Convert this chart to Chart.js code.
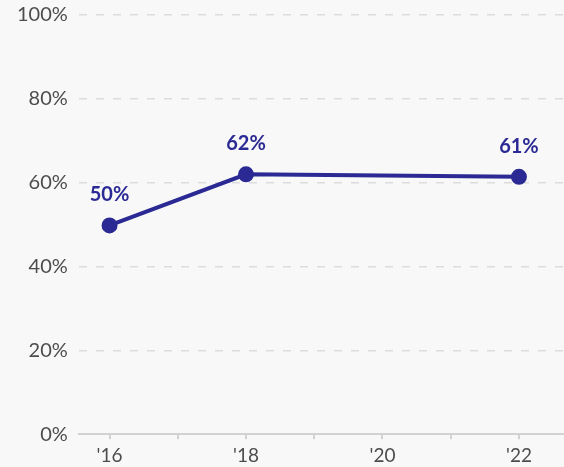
<!DOCTYPE html>
<html>
<head>
<meta charset="utf-8">
<script src="https://cdn.jsdelivr.net/npm/chart.js@4"></script>
<style>
  html, body { margin: 0; padding: 0; background: #f8f8f8; }
  #wrap { width: 564px; height: 467px; }
</style>
</head>
<body>
<div id="wrap"><canvas id="chart" width="564" height="467"></canvas></div>
<script>
const years = [2016, 2018, 2022];
const shares = [49.8, 62.0, 61.4];
const yearTicks = [2016, 2017, 2018, 2019, 2020, 2021, 2022];
const shareTicks = [0, 20, 40, 60, 80, 100];

const lineColor = "#2b2a94";

// write the value above each point
const pointLabels = {
  id: "pointLabels",
  afterDatasetsDraw(chart) {
    const ctx = chart.ctx;
    const meta = chart.getDatasetMeta(0);
    ctx.save();
    ctx.font = "bold 20px Lato";
    ctx.fillStyle = lineColor;
    ctx.textAlign = "center";
    ctx.textBaseline = "alphabetic";
    meta.data.forEach((pt, i) => {
      ctx.fillText(Math.round(shares[i]) + "%", pt.x, pt.y - 24);
    });
    ctx.restore();
  },
};

const ctx = document.getElementById("chart").getContext("2d");
const chart = new Chart(ctx, {
  type: "line",
  data: {
    datasets: [
      {
        data: years.map((y, i) => ({ x: y, y: shares[i] })),
        borderColor: lineColor,
        backgroundColor: lineColor,
        borderWidth: 4,
        pointRadius: 6,
        pointHoverRadius: 6,
        tension: 0,
      },
    ],
  },
  options: {
    responsive: false,
    animation: false,
    layout: { autoPadding: false, padding: { top: 15, left: 6, right: 0, bottom: -5 } },
    plugins: { legend: { display: false }, tooltip: { enabled: false } },
    scales: {
      x: {
        type: "linear",
        min: 2015.55,
        max: 2022.66,
        afterBuildTicks: (scale) => {
          scale.ticks = yearTicks.map((v) => ({ value: v }));
        },
        grid: {
          drawOnChartArea: false,
          drawTicks: true,
          tickLength: 5,
          color: "#d2d2d2",
          lineWidth: 2,
        },
        border: { display: true, color: "#d2d2d2", width: 2 },
        ticks: {
          autoSkip: false,
          maxRotation: 0,
          padding: 5,
          color: "#4d4d4d",
          font: { family: "Lato", size: 19 },
          callback: (v) => (v % 2 === 0 ? "'" + String(v).slice(2) : ""),
        },
      },
      y: {
        min: 0,
        max: 100,
        afterBuildTicks: (scale) => {
          scale.ticks = shareTicks.map((v) => ({ value: v }));
        },
        afterFit: (scale) => {
          scale.paddingTop = 0;
        },
        grid: {
          drawTicks: false,
          color: (c) => (c.tick && c.tick.value === 0 ? "rgba(0,0,0,0)" : "#dcdcdc"),
          lineWidth: 1.5,
        },
        border: { display: false, dash: [8, 9] },
        ticks: {
          padding: 11,
          color: "#4d4d4d",
          font: { family: "Lato", size: 20 },
          callback: (v) => v + "%",
        },
      },
    },
  },
  plugins: [pointLabels],
});
</script>
</body>
</html>
